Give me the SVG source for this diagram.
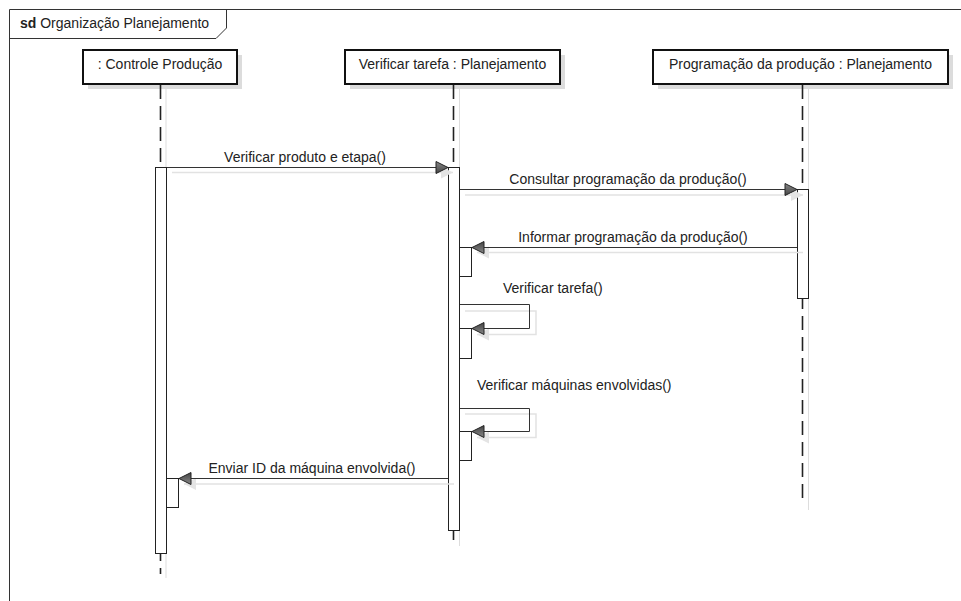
<svg xmlns="http://www.w3.org/2000/svg" width="961" height="601" viewBox="0 0 961 601">
<style>
text{font-family:"Liberation Sans",Arial,sans-serif;font-size:14px;fill:#222}
.frame{fill:none;stroke:#333;stroke-width:1}
.box{fill:#fff;stroke:#111;stroke-width:2}
.bshadow{fill:#dcdcdc}
.life{stroke:#222;stroke-width:1.6;stroke-dasharray:14 7;fill:none}
.lshadow{stroke:#ddd;stroke-width:1;fill:none}
.act{fill:#fff;stroke:#222;stroke-width:1}
.msg{stroke:#333;stroke-width:1;fill:none;marker-end:url(#arr)}
.msh{stroke:#e2e2e2;stroke-width:1.5;fill:none;marker-end:url(#arrs)}
</style>
<defs>
<linearGradient id="g" x1="0" y1="0" x2="0" y2="1">
<stop offset="0" stop-color="#888"/>
<stop offset="1" stop-color="#444"/>
</linearGradient>
<marker id="arr" markerUnits="userSpaceOnUse" markerWidth="14" markerHeight="14" viewBox="0 0 14 14" refX="13" refY="7" orient="auto">
<path d="M1,1 L13,7 L1,13 Z" fill="url(#g)" stroke="#222" stroke-width="1"/>
</marker>
<marker id="arrs" markerUnits="userSpaceOnUse" markerWidth="14" markerHeight="14" viewBox="0 0 14 14" refX="13" refY="7" orient="auto">
<path d="M1,1 L13,7 L1,13 Z" fill="#e4e4e4"/>
</marker>
</defs>
<g id="frame">
<path class="frame" d="M9.5,601 V9.5 H961"/>
<path class="frame" d="M9.5,38.5 H216 L226.5,28 V9.5"/>
<text x="20" y="28"><tspan font-weight="bold">sd</tspan> Organização Planejamento</text>
</g>
<g id="lifeline-controle">
<line class="lshadow" x1="166" y1="89" x2="166" y2="578"/>
<rect class="bshadow" x="88" y="55" width="154" height="34"/>
<rect class="box" x="83" y="50" width="154" height="34"/>
<text x="160" y="69" text-anchor="middle">: Controle Produção</text>
<line class="life" x1="160.5" y1="85" x2="160.5" y2="574"/>
<rect class="act" x="155.5" y="167.5" width="11" height="386"/>
<rect class="act" x="166.5" y="478.5" width="12" height="29"/>
</g>
<g id="lifeline-verificar">
<line class="lshadow" x1="459.5" y1="89" x2="459.5" y2="546"/>
<rect class="bshadow" x="350" y="55" width="215" height="34"/>
<rect class="box" x="345" y="50" width="215" height="34"/>
<text x="452.5" y="69" text-anchor="middle">Verificar tarefa : Planejamento</text>
<line class="life" x1="453.5" y1="85" x2="453.5" y2="541"/>
<rect class="act" x="448.5" y="167.5" width="11" height="363"/>
<rect class="act" x="459.5" y="247.5" width="12" height="29"/>
<rect class="act" x="459.5" y="328.5" width="12" height="30"/>
<rect class="act" x="459.5" y="431.5" width="12" height="29"/>
</g>
<g id="lifeline-programacao">
<line class="lshadow" x1="808.5" y1="89" x2="808.5" y2="510"/>
<rect class="bshadow" x="658" y="55" width="295" height="34"/>
<rect class="box" x="653" y="50" width="295" height="34"/>
<text x="800.5" y="69" text-anchor="middle">Programação da produção : Planejamento</text>
<line class="life" x1="802.5" y1="85" x2="802.5" y2="500"/>
<rect class="act" x="797.5" y="189.5" width="11" height="109"/>
</g>
<g id="connectors">
<line class="msh" x1="172" y1="172.5" x2="453" y2="172.5"/>
<line class="msg" x1="167" y1="167.5" x2="448" y2="167.5"/>
<text x="305" y="162" text-anchor="middle">Verificar produto e etapa()</text>

<line class="msh" x1="465" y1="195" x2="803" y2="195"/>
<line class="msg" x1="460" y1="189.5" x2="797" y2="189.5"/>
<text x="628" y="184" text-anchor="middle">Consultar programação da produção()</text>

<line class="msh" x1="803" y1="252.5" x2="477" y2="252.5"/>
<line class="msg" x1="797" y1="247.5" x2="472" y2="247.5"/>
<text x="633" y="242" text-anchor="middle">Informar programação da produção()</text>

<path class="msh" d="M465,311 H536 V334.5 H477"/>
<path class="msg" d="M460,304.5 H529.5 V328.5 H472"/>
<text x="503" y="293">Verificar tarefa()</text>

<path class="msh" d="M465,414 H536 V437.5 H477"/>
<path class="msg" d="M460,408.5 H529.5 V431.5 H472"/>
<text x="477" y="390">Verificar máquinas envolvidas()</text>

<line class="msh" x1="454" y1="484" x2="184" y2="484"/>
<line class="msg" x1="448" y1="478.5" x2="179" y2="478.5"/>
<text x="312" y="473" text-anchor="middle">Enviar ID da máquina envolvida()</text>
</g>
</svg>
